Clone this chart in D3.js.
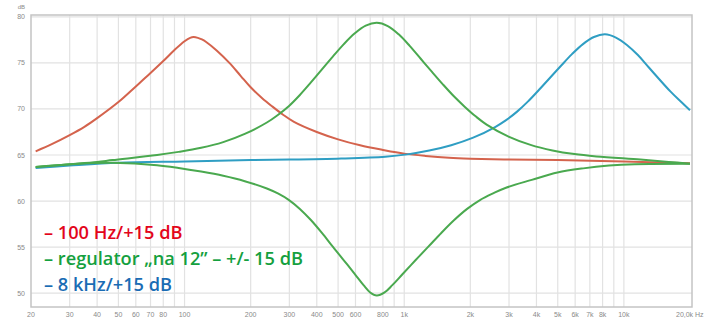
<!DOCTYPE html>
<html><head><meta charset="utf-8">
<script src="https://cdn.jsdelivr.net/npm/d3@7"></script>
<style>html,body{margin:0;padding:0;background:#fff;}svg{display:block;}</style>
</head><body>
<svg id="c" width="704" height="320"></svg>
<script>
// ---- data ----
const redFreq  = [21,25,30,35,40,50,60,70,80,90,100,106,110,115,120,125,140,160,180,200,225,250,280,315,400,500,630,800,1000,1250,1600,2000,3000,5000,10000,20000];
const redDb    = [65.4,66.2,67.15,68.05,69.0,70.75,72.45,73.9,75.2,76.4,77.35,77.72,77.8,77.72,77.55,77.3,76.35,75.0,73.6,72.35,71.2,70.3,69.4,68.6,67.5,66.7,66.05,65.55,65.15,64.9,64.7,64.6,64.5,64.45,64.3,64.1];

const greenUpFreq = [21,30,40,47,75,94,119,150,188,237,266,299,335,376,473,531,596,668,750,842,944,1059,1189,1335,1496,1679,1884,2114,2372,2986,3759,4732,5957,7500,11887,16000,20000];
const greenUpDb   = [63.7,64.0,64.25,64.45,65.0,65.34,65.78,66.4,67.29,68.53,69.35,70.33,71.52,72.88,75.68,77.04,78.21,79.04,79.35,79.0,78.1,76.85,75.45,74.05,72.7,71.4,70.25,69.2,68.3,67.0,66.1,65.5,65.1,64.85,64.5,64.25,64.05];

const greenDownFreq = [21,33,47,75,94,119,150,188,237,266,299,335,376,422,473,531,596,653,700,750,814,883,984,1125,1288,1475,1689,1934,2213,2536,2906,3806,4986,6530,8553,11200,20000];
const greenDownDb   = [63.7,64.05,64.15,63.9,63.6,63.2,62.74,62.16,61.37,60.83,60.11,59.15,57.94,56.54,55.05,53.57,52.08,50.87,50.08,49.75,50.08,50.87,52.08,53.57,55.05,56.54,57.94,59.15,60.11,60.83,61.45,62.3,63.1,63.55,63.85,64.0,64.05];

const blueFreq = [21,30,50,100,200,300,517,820,1033,1300,1636,2060,2593,2910,3265,3663,4110,5174,5805,6513,7308,8200,9200,10323,11583,12996,16361,18357,20000];
const blueDb   = [63.6,63.85,64.15,64.3,64.45,64.5,64.62,64.82,65.07,65.48,66.06,66.88,68.04,68.79,69.71,70.82,72.08,74.69,75.95,77.04,77.81,78.1,77.75,76.95,75.85,74.5,71.85,70.7,69.85];

const yTicks = [50,55,60,65,70,75,80];
const xGrid = [30,40,50,60,70,80,90,100,200,300,400,500,600,700,800,900,1000,2000,3000,4000,5000,6000,7000,8000,9000,10000];
const xTickVals   = [20,30,40,50,60,70,80,100,200,300,400,500,600,800,1000,2000,3000,4000,5000,6000,7000,8000,10000];
const xTickLabels = ["20","30","40","50","60","70","80","100","200","300","400","500","600","800","1k","2k","3k","4k","5k","6k","7k","8k","10k"];
const lastLabel = "20,0k Hz";

const legendTexts  = ["\u2013 100 Hz/+15 dB", "\u2013 regulator \u201Ena 12\u201D \u2013 +/- 15 dB", "\u2013 8 kHz/+15 dB"];
const legendColors = ["#e3051b", "#14a03e", "#1a6cb4"];

// ---- drawing ----
const svg = d3.select("#c");
const L = 31, R = 692, T = 15, B = 307;
const x = d3.scaleLog().domain([20, 20000]).range([L, 690]);
const y = d3.scaleLinear().domain([48.5, 80.2]).range([B, T]);

const g = svg.append("g");
// grid
g.selectAll("line.hg").data(yTicks).join("line")
  .attr("x1", L).attr("x2", R).attr("y1", d => y(d)).attr("y2", d => y(d))
  .attr("stroke", "#e2e2e2").attr("stroke-width", 1.2);
g.selectAll("line.vg").data(xGrid).join("line")
  .attr("y1", T).attr("y2", B).attr("x1", d => x(d)).attr("x2", d => x(d))
  .attr("stroke", "#e2e2e2").attr("stroke-width", 1.2);
// frame
g.append("rect").attr("x", L).attr("y", T).attr("width", R - L).attr("height", B - T)
  .attr("fill", "none").attr("stroke", "#c4c4c4").attr("stroke-width", 1.5);

// axis labels
const axFont = "Liberation Sans, Arial, sans-serif";
g.selectAll("text.yl").data(yTicks).join("text")
  .attr("x", 25).attr("y", d => y(d) + 2.5).attr("text-anchor", "end")
  .attr("font-family", axFont).attr("font-size", 7).attr("fill", "#8a8a8a").text(d => d);
g.append("text").attr("x", 25).attr("y", 9).attr("text-anchor", "end")
  .attr("font-family", axFont).attr("font-size", 6).attr("fill", "#8a8a8a").text("dB");
g.selectAll("text.xl").data(xTickVals).join("text")
  .attr("x", d => x(d)).attr("y", 317).attr("text-anchor", "middle")
  .attr("font-family", axFont).attr("font-size", 7).attr("fill", "#8a8a8a")
  .text((d, i) => xTickLabels[i]);
g.append("text").attr("x", x(20000) - 14).attr("y", 317).attr("text-anchor", "start")
  .attr("font-family", axFont).attr("font-size", 7).attr("fill", "#8a8a8a").text(lastLabel);

// curves
const line = d3.line().x(d => x(d[0])).y(d => y(d[1])).curve(d3.curveCatmullRom.alpha(0.5));
const series = [
  [redFreq, redDb, "#d4634d"],
  [blueFreq, blueDb, "#2f9ec3"],
  [greenUpFreq, greenUpDb, "#4aa94f"],
  [greenDownFreq, greenDownDb, "#4aa94f"]
];
series.forEach(([f, v, c]) => {
  g.append("path").datum(f.map((d, i) => [d, v[i]]))
    .attr("d", line).attr("fill", "none").attr("stroke", c)
    .attr("stroke-width", 2).attr("stroke-linejoin", "round");
});

// legend
g.selectAll("text.lg").data(legendTexts).join("text")
  .attr("x", 44).attr("y", (d, i) => 239 + i * 26)
  .attr("font-family", "Open Sans, sans-serif").attr("font-weight", 600)
  .attr("font-size", 18.2).attr("fill", (d, i) => legendColors[i]).text(d => d);
</script>
</body></html>
